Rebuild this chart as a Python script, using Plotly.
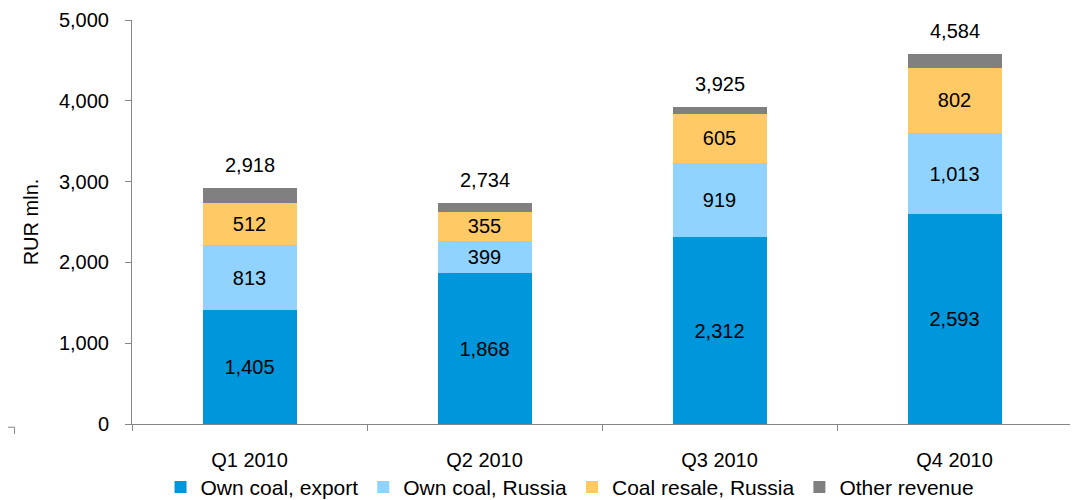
import plotly.graph_objects as go

quarters = ["Q1 2010", "Q2 2010", "Q3 2010", "Q4 2010"]
own_export = [1405, 1868, 2312, 2593]
own_russia = [813, 399, 919, 1013]
resale_russia = [512, 355, 605, 802]
other_revenue = [188, 112, 89, 176]
totals = [2918, 2734, 3925, 4584]

series = [
    ("Own coal, export", own_export, "#0096DB", True),
    ("Own coal, Russia", own_russia, "#8FD3FE", True),
    ("Coal resale, Russia", resale_russia, "#FFC966", True),
    ("Other revenue", other_revenue, "#808080", False),
]

font = "Liberation Sans, Arial, sans-serif"
axis_grey = "#868686"

fig = go.Figure()
for name, vals, color, show_text in series:
    fig.add_trace(go.Bar(
        x=quarters, y=vals, name=name,
        marker=dict(color=color, line=dict(width=0)),
        width=0.4,
        text=vals if show_text else None,
        texttemplate="%{text:,}" if show_text else None,
        textposition="inside" if show_text else "none",
        insidetextanchor="middle",
        textangle=0,
        constraintext="none",
        insidetextfont=dict(family=font, size=20, color="black"),
        hoverinfo="skip",
    ))

# totals above the bars
for q, t in zip(quarters, totals):
    fig.add_annotation(x=q, y=t, text=f"{t:,}", showarrow=False,
                       yanchor="middle", yshift=23,
                       font=dict(family=font, size=20, color="black"))

# page body adds an 8px margin, so the figure is a bit smaller than the window
fig.update_layout(
    barmode="stack",
    width=1070, height=492,
    margin=dict(l=124, r=6, t=12, b=76, autoexpand=False),
    plot_bgcolor="white", paper_bgcolor="white",
    font=dict(family=font, size=20, color="black"),
    legend=dict(
        orientation="h", x=0.466, xanchor="center",
        y=-0.106, yanchor="top",
        bgcolor="rgba(0,0,0,0)",
        font=dict(family=font, size=21),
        traceorder="normal",
    ),
    xaxis=dict(
        showline=True, linecolor=axis_grey, linewidth=1,
        ticks="outside", tickson="boundaries", ticklen=6, tickcolor=axis_grey,
        tickfont=dict(family=font, size=20),
        ticklabelstandoff=18,
        showgrid=False,
    ),
    yaxis=dict(
        range=[0, 5000], dtick=1000, tickformat=",",
        showline=True, linecolor=axis_grey, linewidth=1,
        ticks="outside", ticklen=6, tickcolor=axis_grey,
        showgrid=False, zeroline=False,
        tickfont=dict(family=font, size=20),
        ticklabelstandoff=12,
        title=dict(text="RUR mln.", font=dict(family=font, size=20), standoff=14),
    ),
    showlegend=True,
)

# small stray bracket at the lower left
fig.add_shape(type="path", xref="paper", yref="paper",
              path="M -0.1335 -0.008 L -0.1250 -0.008 L -0.1250 -0.025",
              line=dict(color=axis_grey, width=1))

fig.write_html("out.html")
